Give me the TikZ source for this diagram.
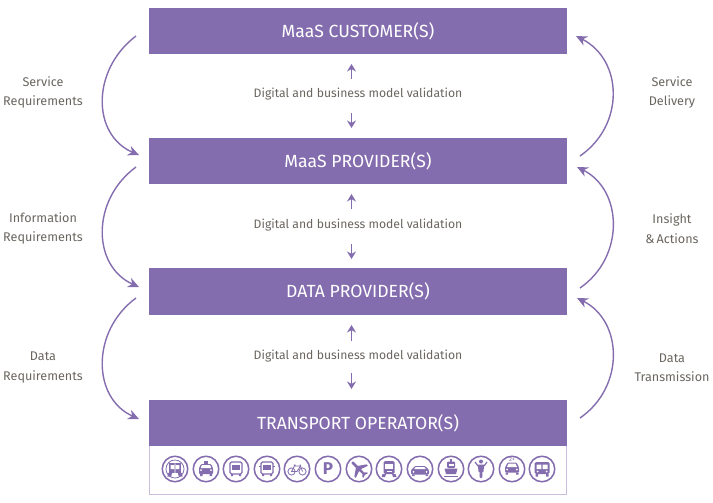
\documentclass[tikz,border=0pt]{standalone}
\usepackage{fontspec}
\setmainfont{Fira Sans}
\usetikzlibrary{arrows.meta}
\definecolor{mp}{HTML}{846DAE}
\definecolor{mpl}{HTML}{C9BFDD}
\definecolor{lab}{HTML}{6A655F}
\tikzset{
  x=1pt,y=-1pt,
  band/.style={fill=mp,draw=none,minimum width=418pt,inner sep=0pt,text=white,font=\fontsize{17.6}{20}\selectfont},
  caption/.style={text=lab,font=\fontsize{12.2}{19.5}\selectfont,align=center,inner sep=0pt},
  sidecap/.style={caption,font=\fontsize{12.6}{19.5}\selectfont},
  curvearrow/.style={draw=mp,line width=1.4pt,-{Stealth[length=11pt,width=10pt]}},
  vert/.style={draw=mp,line width=1.5pt,-{Stealth[length=7.5pt,width=9pt]}},
  ring/.style={draw=mp,line width=1.5pt,fill=white,circle,minimum size=25.5pt,inner sep=0pt},
  gs/.style={draw=mp,line width=.8pt,fill=none},
}
\newcommand{\iconcar}{\fill[mp,rounded corners=1pt] (-7,-1) -- (-5,-5) -- (5,-5) -- (7,-1) -- (7,5) -- (-7,5) -- cycle;
  \fill[white] (-4.2,-3.8) -- (4.2,-3.8) -- (5.2,-1) -- (-5.2,-1) -- cycle;
  \fill[white] (-5,1) circle (1) (5,1) circle (1);}
\newcommand{\iconbus}{\draw[gs,line width=1.2pt,rounded corners=1.5pt] (-6,-7) rectangle (6,5);
  \fill[mp] (-4,-4) rectangle (4,1);
  \fill[mp] (-5,5) rectangle (-3,7) (3,5) rectangle (5,7);}
\begin{document}
\begin{tikzpicture}
\useasboundingbox (0,0) rectangle (713,503);
\node[draw=mpl,line width=1pt,fill=white,minimum width=417pt,minimum height=49pt,inner sep=0pt] (tray) at (358,470) {};
\node[band,minimum height=46pt] (cust) at (358,31) {\raisebox{-1pt}{MaaS CUSTOMER(S)}};
\node[band,minimum height=46pt] (prov) at (358,161) {\raisebox{-1pt}{MaaS PROVIDER(S)}};
\node[band,minimum height=47pt] (data) at (358,291.5) {\raisebox{-1pt}{DATA PROVIDER(S)}};
\node[band,minimum height=46pt] (oper) at (358,423) {\raisebox{-1pt}{TRANSPORT OPERATOR(S)}};

\node[caption] (vala) at (358,94) {Digital and business model validation};
\node[caption] (valb) at (358,225) {Digital and business model validation};
\node[caption] (valc) at (358,356) {Digital and business model validation};

\coordinate (ua) at (351.5,79); \coordinate (ua2) at (351.5,64);
\coordinate (da) at (351.5,113); \coordinate (da2) at (351.5,128);
\coordinate (ub) at (351.5,209); \coordinate (ub2) at (351.5,194);
\coordinate (db) at (351.5,244); \coordinate (db2) at (351.5,259);
\coordinate (uc) at (351.5,341); \coordinate (uc2) at (351.5,325);
\coordinate (dc) at (351.5,373); \coordinate (dc2) at (351.5,389);
\draw[vert] (ua) -- (ua2);
\draw[vert] (da) -- (da2);
\draw[vert] (ub) -- (ub2);
\draw[vert] (db) -- (db2);
\draw[vert] (uc) -- (uc2);
\draw[vert] (dc) -- (dc2);

% side arrows
\coordinate (l1s) at (136,36);  \coordinate (l1e) at (139,155);
\coordinate (l2s) at (136,167); \coordinate (l2e) at (139,287);
\coordinate (l3s) at (136,298); \coordinate (l3e) at (139,419);
\coordinate (r1s) at (580,156); \coordinate (r1e) at (576,36);
\coordinate (r2s) at (580,288); \coordinate (r2e) at (577,167);
\coordinate (r3s) at (580,418); \coordinate (r3e) at (577,298);
\draw[curvearrow] (l1s) .. controls (91,70) and (92,135) .. (l1e);
\draw[curvearrow] (l2s) .. controls (91,200) and (92,266) .. (l2e);
\draw[curvearrow] (l3s) .. controls (91,331) and (92,398) .. (l3e);
\draw[curvearrow] (r1s) .. controls (625,125) and (623,60) .. (r1e);
\draw[curvearrow] (r2s) .. controls (625,257) and (623,190) .. (r2e);
\draw[curvearrow] (r3s) .. controls (625,387) and (623,321) .. (r3e);

\node[sidecap] (t1) at (43,92.5) {Service\\Requirements};
\node[sidecap] (t2) at (43,228.5) {Information\\Requirements};
\node[sidecap] (t3) at (43,367.5) {Data\\Requirements};
\node[sidecap] (t4) at (672,92.5) {Service\\Delivery};
\node[sidecap] (t5) at (672,228.5) {Insight\\\&\,Actions};
\node[sidecap] (t6) at (672,367.5) {Data\\Transmission};

% icons
\foreach \i/\x in {1/175,2/206,3/236,4/267,5/297,6/328,7/359,8/389,9/420,10/451,11/481,12/512,13/542}{
  \node[ring] (ic\i) at (\x,469) {};
}
\begin{scope}[shift={(ic1.center)},scale=.95]
  \draw[gs] (0,0) circle (9.5);
  \fill[mp] (-6,-6) rectangle (6,4);
  \fill[white] (-4.5,-4) rectangle (-1,0) (1,-4) rectangle (4.5,0) (-.5,-6) rectangle (.5,4);
  \fill[mp] (-7,4) -- (-3,4) -- (-4,8) -- (-8,8) -- cycle (7,4) -- (3,4) -- (4,8) -- (8,8) -- cycle;
\end{scope}
\begin{scope}[shift={(ic2.center)}]
  \fill[mp] (-2,-8) rectangle (2,-5.5);
  \iconcar
  \fill[mp] (-6,5) rectangle (-3.5,7) (3.5,5) rectangle (6,7);
\end{scope}
\begin{scope}[shift={(ic3.center)}]\iconbus\end{scope}
\begin{scope}[shift={(ic4.center)}]
  \iconbus
  \draw[mp,line width=1pt] (-8,-3) -- (-6,-3) (6,-3) -- (8,-3);
\end{scope}
\begin{scope}[shift={(ic5.center)}]
  \draw[mp,line width=.8pt] (-5.5,2.5) circle (3.6) (5.5,2.5) circle (3.6);
  \draw[mp,line width=.8pt] (-5.5,2.5) -- (-2.5,-3) -- (3.5,-3) -- (0,2.5) -- cycle (3,-4.5) -- (5.5,2.5) (-3.5,-4) -- (-1.5,-4);
\end{scope}
\node[text=mp,font=\fontsize{17}{17}\selectfont\bfseries,inner sep=0pt] (pk) at (ic6.center) {P};
\begin{scope}[shift={(ic7.center)},rotate=45]
  \fill[mp] (-1.4,-9) .. controls (-1.4,-10.5) and (1.4,-10.5) .. (1.4,-9) -- (1.4,-3) -- (8.5,2) -- (8.5,4) -- (1.4,1.5) -- (1,6) -- (3.2,7.8) -- (3.2,9.2) -- (0,8.3) -- (-3.2,9.2) -- (-3.2,7.8) -- (-1,6) -- (-1.4,1.5) -- (-8.5,4) -- (-8.5,2) -- (-1.4,-3) -- cycle;
\end{scope}
\begin{scope}[shift={(ic8.center)}]
  \fill[mp,rounded corners=1.5pt] (-5.5,-8) rectangle (5.5,5);
  \fill[white] (-3.8,-5) rectangle (3.8,-.5);
  \fill[white] (-2.5,1.5) rectangle (2.5,3);
  \fill[mp] (-6.5,5) -- (-3,5) -- (-4,8) -- (-7.5,8) -- cycle (6.5,5) -- (3,5) -- (4,8) -- (7.5,8) -- cycle;
\end{scope}
\begin{scope}[shift={(ic9.center)},yshift=-1pt]
  \fill[mp,rounded corners=1pt] (-9,0) -- (-5,-4) -- (5,-4) -- (9,0) -- (9,4.5) -- (-9,4.5) -- cycle;
  \fill[white] (-4.2,-3) -- (4.2,-3) -- (6,-.8) -- (-6,-.8) -- cycle;
  \fill[white] (-6.5,1.8) circle (1) (6.5,1.8) circle (1);
  \fill[mp] (-8,4.5) rectangle (-5.5,6) (5.5,4.5) rectangle (8,6);
\end{scope}
\begin{scope}[shift={(ic10.center)}]
  \fill[mp] (-1,-10) rectangle (1,-7);
  \fill[mp,rounded corners=1pt] (-4,-7.5) rectangle (4,-1);
  \fill[white] (-2.5,-5.5) rectangle (2.5,-3);
  \fill[mp] (-6.5,-.5) -- (6.5,-.5) -- (5,5) -- (-5,5) -- cycle;
  \draw[mp,line width=1pt] (-7,7) -- (7,7);
\end{scope}
\begin{scope}[shift={(ic11.center)}]
  \fill[mp] (0,-7.5) circle (2);
  \draw[mp,line width=1.2pt] (-6,-7) -- (-3,-3) (6,-7) -- (3,-3);
  \fill[mp] (-3.2,-4.5) -- (3.2,-4.5) -- (2.4,3) -- (-2.4,3) -- cycle;
  \fill[mp,rounded corners=1pt] (-1.4,2) rectangle (1.4,9);
\end{scope}
\begin{scope}[shift={(ic12.center)},yshift=1.5pt]
  \node[text=mp,font=\fontsize{6}{6}\selectfont,inner sep=0pt] (plus) at (0,-8.3) {2+};
  \fill[mp,rounded corners=1pt] (-7,0) -- (-4.5,-5) -- (4.5,-5) -- (7,0) -- (7,5) -- (-7,5) -- cycle;
  \fill[white] (-3.6,-3.8) -- (3.6,-3.8) -- (5,-.5) -- (-5,-.5) -- cycle;
  \fill[white] (-4.8,2) circle (1) (4.8,2) circle (1);
  \fill[mp] (-6.5,5) rectangle (-4,7) (4,5) rectangle (6.5,7);
\end{scope}
\begin{scope}[shift={(ic13.center)}]
  \fill[mp,rounded corners=1.5pt] (-7.5,-7) rectangle (7.5,5);
  \fill[white] (-5.5,-4.5) rectangle (-.7,0) (.7,-4.5) rectangle (5.5,0);
  \fill[white] (-4.5,2.5) circle (1) (4.5,2.5) circle (1);
  \fill[mp] (-6.5,5) rectangle (-4,7.5) (4,5) rectangle (6.5,7.5);
\end{scope}
\end{tikzpicture}
\end{document}
